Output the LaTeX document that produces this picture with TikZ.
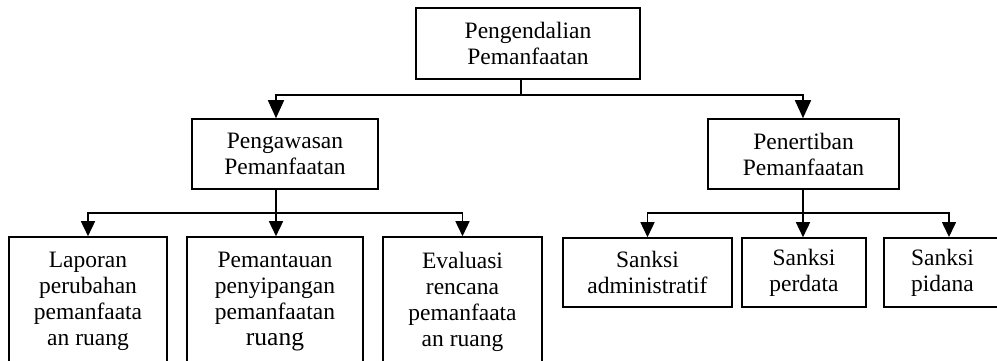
\documentclass[tikz,border=0pt]{standalone}
\usepackage{fontspec}
\setmainfont{Liberation Serif}
\usetikzlibrary{arrows.meta}
\tikzset{
  box/.style={draw, line width=1.6pt, inner sep=0pt, align=center,
    font=\fontsize{23.5}{26}\selectfont},
  txt/.style={inner sep=0pt, align=center, font=\fontsize{23.5}{26}\selectfont},
  ln/.style={line width=1.6pt},
  arr/.style={line width=1.6pt, -{Triangle[length=15pt,width=14pt]}},
  bigarr/.style={line width=1.6pt, -{Triangle[length=18pt,width=16pt]}}
}
\begin{document}
\begin{tikzpicture}[x=1pt,y=-1pt]
\useasboundingbox (0,0) rectangle (997,360);
\clip (0,0) rectangle (997,360);
% level 0
\node[box, minimum width=224pt, minimum height=71pt] (top) at (528,43.5) {Pengendalian\\Pemanfaatan};
% level 1
\node[box, minimum width=186pt, minimum height=70pt] (pengw) at (285,154) {Pengawasan\\Pemanfaatan};
\node[box, minimum width=191pt, minimum height=70pt] (pener) at (803.5,154) {Penertiban\\Pemanfaatan};
% level 2 left (tall boxes)
\node[box, minimum width=158pt, minimum height=163pt] (lap) at (88,318.5) {};
\node[box, minimum width=176pt, minimum height=163pt] (pem) at (275,318.5) {};
\node[box, minimum width=159pt, minimum height=163pt] (eva) at (462.5,318.5) {};
\node[txt, anchor=north] (lapT) at (88,252) {Laporan\\perubahan\\pemanfaata\\an ruang};
\node[txt, anchor=north] (pemT) at (275,252) {Pemantauan\\penyipangan\\pemanfaatan\\{\fontsize{25.5}{26}\selectfont ruang}};
\node[txt, anchor=north] (evaT) at (462.5,252) {Evaluasi\\rencana\\pemanfaata\\an ruang};
% level 2 right
\node[box, minimum width=169pt, minimum height=69pt] (adm) at (647.5,272.5) {Sanksi\\administratif};
\node[box, minimum width=124pt, minimum height=69pt] (per) at (804,272.5) {Sanksi\\perdata};
\node[box, minimum width=117pt, minimum height=69pt] (pid) at (942.5,272.5) {Sanksi\\pidana};
% junction coordinates
\coordinate (j0) at (521,95);
\coordinate (c1) at (276,95);
\coordinate (c2) at (803,95);
\coordinate (j1) at (276,213);
\coordinate (j2) at (803,213);
\coordinate (p3) at (949,237);
% connectors
\draw[ln] (top.south -| j0) -- (j0);
\draw[bigarr] (j0) -| (c1 |- pengw.north);
\draw[bigarr] (j0) -| (c2 |- pener.north);
\draw[ln] (pengw.south -| j1) -- (j1);
\draw[arr] (j1) -| (lap.north);
\draw[arr] (j1) -- (j1 |- pem.north);
\draw[arr] (j1) -| (eva.north);
\draw[ln] (pener.south -| j2) -- (j2);
\draw[arr] (j2) -| (adm.north);
\draw[arr] (j2) -- (j2 |- per.north);
\draw[arr] (j2) -| (p3);
\end{tikzpicture}
\end{document}
